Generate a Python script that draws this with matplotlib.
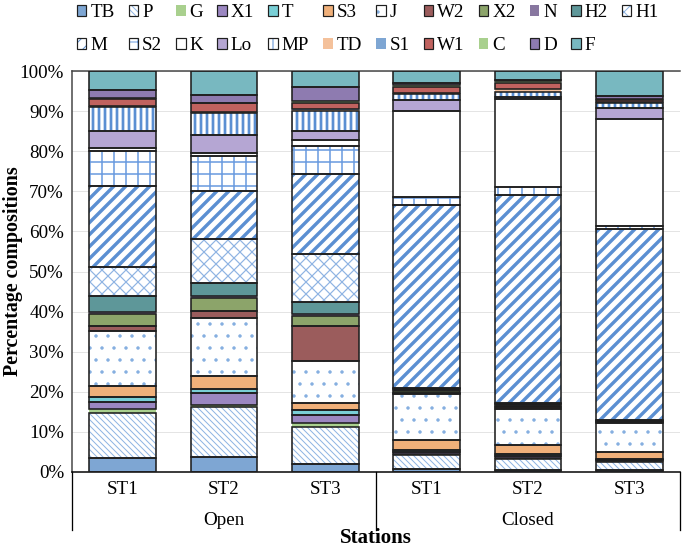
# stacked percentage composition per station, open vs closed
import matplotlib
matplotlib.use('Agg')
from matplotlib import pyplot as plt
from matplotlib.patches import Patch
from matplotlib.ticker import FuncFormatter

plt.rcParams['font.family'] = ['Liberation Serif', 'DejaVu Serif']

stations = ['ST1', 'ST2', 'ST3', 'ST1', 'ST2', 'ST3']
groups = ['Open', 'Closed']
taxa = ['TB', 'P', 'G', 'X1', 'T', 'S3', 'J', 'W2', 'X2', 'N', 'H2', 'H1',
        'M', 'S2', 'K', 'Lo', 'MP', 'TD', 'S1', 'W1', 'C', 'D', 'F']

# % composition, stacked bottom -> top; Open ST1-3, Closed ST1-3
TB = [3.5, 3.7, 2.1, 0.8, 0.4, 0.4]
P  = [11.1, 12.6, 9.0, 3.5, 2.9, 2.2]
G  = [1.0, 0.5, 1.2, 0.3, 0.3, 0.2]
X1 = [1.8, 2.8, 1.8, 0.4, 0.3, 0.2]
T  = [1.2, 1.2, 1.3, 0.5, 0.7, 0.2]
S3 = [2.8, 3.2, 1.7, 2.4, 2.2, 1.7]
J  = [13.7, 14.4, 10.6, 11.6, 9.0, 7.3]
W2 = [1.4, 1.8, 8.8, 0.3, 0.3, 0.2]
X2 = [2.8, 3.3, 2.4, 0.3, 0.3, 0.2]
N  = [0.7, 0.3, 0.5, 0.3, 0.3, 0.1]
H2 = [3.9, 3.4, 3.0, 0.3, 0.3, 0.1]
H1 = [7.1, 10.8, 12.0, 0.3, 0.2, 0.1]
M  = [20.4, 12.0, 20.0, 45.7, 52.0, 47.7]
S2 = [8.6, 8.8, 7.0, 1.9, 1.8, 0.8]
K  = [0.8, 0.8, 1.3, 21.5, 22.1, 26.7]
Lo = [4.3, 4.5, 2.3, 2.6, 0.4, 2.6]
MP = [5.8, 5.4, 5.0, 1.6, 1.3, 1.2]
TD = [0.3, 0.2, 0.3, 0.2, 0.6, 0.2]
S1 = [0.1, 0.2, 0.1, 0.1, 0.2, 0.2]
W1 = [1.6, 2.0, 1.5, 1.4, 1.4, 0.5]
C  = [0.4, 0.2, 0.5, 0.6, 0.4, 0.2]
D  = [1.9, 2.0, 3.5, 0.3, 0.4, 0.8]
F  = [4.8, 5.9, 4.1, 3.1, 2.2, 6.2]

values = [TB, P, G, X1, T, S3, J, W2, X2, N, H2, H1,
          M, S2, K, Lo, MP, TD, S1, W1, C, D, F]

# face, hatch, hatch colour, hatch width, outlined?
BL = '#5b8fd2'
LB = '#8fb4e3'
style = {
    'TB': ('#7ea6d3', None, None, 0, True),
    'P':  ('white', '\\\\\\\\', LB, 1.0, True),
    'G':  ('#a9d08e', None, None, 0, False),
    'X1': ('#9b87c1', None, None, 0, True),
    'T':  ('#79cfd6', None, None, 0, True),
    'S3': ('#f0b07a', None, None, 0, True),
    'J':  ('white', '.', '#84aee0', 1.0, True),
    'W2': ('#9b5c5c', None, None, 0, True),
    'X2': ('#8ca46a', None, None, 0, True),
    'N':  ('#8877a0', None, None, 0, False),
    'H2': ('#5e9799', None, None, 0, True),
    'H1': ('white', 'xx', LB, 1.2, True),
    'M':  ('white', '//', BL, 3.4, True),
    'S2': ('white', '+', '#6f9ee0', 1.6, True),
    'K':  ('white', None, None, 0, True),
    'Lo': ('#b5a6d3', None, None, 0, True),
    'MP': ('white', '||', BL, 2.7, True),
    'TD': ('#f4c19b', None, None, 0, False),
    'S1': ('#7ea6d3', None, None, 0, False),
    'W1': ('#c0625f', None, None, 0, True),
    'C':  ('#a9d08e', None, None, 0, False),
    'D':  ('#8e7bb0', None, None, 0, True),
    'F':  ('#78b8c0', None, None, 0, True),
}
EDGE = '#1f1f1f'

fig = plt.figure(figsize=(685/72, 548/72), dpi=72)
ax = fig.add_axes([72/685, 1 - 472/548, 608/685, 401/548])

x = list(range(len(stations)))
bottom = [0.0] * len(stations)
handles = {}
for name, vals in zip(taxa, values):
    face, hatch, hcol, hlw, outlined = style[name]
    with plt.rc_context({'hatch.linewidth': hlw if hlw else 1.0}):
        fill = ax.bar(x, vals, 0.66, bottom=bottom, color=face,
                      hatch=hatch, edgecolor=hcol if hatch else face,
                      linewidth=0, zorder=2)
    for b in fill:
        if hatch and hasattr(b, 'set_hatch_linewidth'):
            b.set_hatch_linewidth(hlw)
    if outlined:
        ax.bar(x, vals, 0.66, bottom=bottom, facecolor='none',
               edgecolor=EDGE, linewidth=1.6, zorder=3)
    h1 = Patch(facecolor=face, hatch=hatch, edgecolor=hcol if hatch else face, linewidth=0)
    if outlined:
        handles[name] = (h1, Patch(facecolor='none', edgecolor=EDGE, linewidth=1.2))
    else:
        handles[name] = h1
    bottom = [b + v for b, v in zip(bottom, vals)]

ax.set_xlim(-0.5, 5.5)
ax.set_ylim(0, 100)
ax.set_yticks(range(0, 101, 10))
ax.yaxis.set_major_formatter(FuncFormatter(lambda v, p: '%d%%' % v))
ax.set_xticks(x)
ax.set_xticklabels(stations)
ax.tick_params(axis='both', length=0, labelsize=19)
ax.tick_params(axis='x', pad=9)
ax.tick_params(axis='y', pad=8)
ax.yaxis.grid(True, color='#e4e4e4', linewidth=1.0, zorder=0)
ax.set_axisbelow(True)
ax.spines['right'].set_visible(False)
ax.spines['top'].set_color('#444444')
ax.spines['left'].set_color('#444444')
ax.spines['bottom'].set_color('black')
for s in ['top', 'left', 'bottom']:
    ax.spines[s].set_linewidth(1.5)

# category axis underneath
trans = ax.get_xaxis_transform()
for xx in [-0.5, 2.5, 5.5]:
    ax.plot([xx, xx], [0, -0.145], transform=trans, color='black',
            lw=1.3, clip_on=False)
ax.text(1, -0.12, groups[0], transform=trans, ha='center', va='center', fontsize=19)
ax.text(4, -0.12, groups[1], transform=trans, ha='center', va='center', fontsize=19)
fig.text(376/685, 1 - 538/548, 'Stations', ha='center', va='center',
         fontsize=21, fontweight='bold')
fig.text(13/685, 0.505, 'Percentage compositions', rotation=90, ha='center',
         va='center', fontsize=20, fontweight='bold')

# legend: two rows, filled column by column
row1 = taxa[:12]
row2 = taxa[12:]
order = []
for i in range(12):
    order.append(row1[i])
    if i < len(row2):
        order.append(row2[i])
fig.legend([handles[n] for n in order], order, ncol=12, loc='upper left',
           bbox_to_anchor=(75/685, 1 - 2/548), frameon=False, fontsize=19,
           handlelength=0.5, handleheight=0.5, handletextpad=0.2,
           columnspacing=0.75, labelspacing=0.85, borderpad=0.1,
           borderaxespad=0)

fig.savefig('out.png', dpi=72)
